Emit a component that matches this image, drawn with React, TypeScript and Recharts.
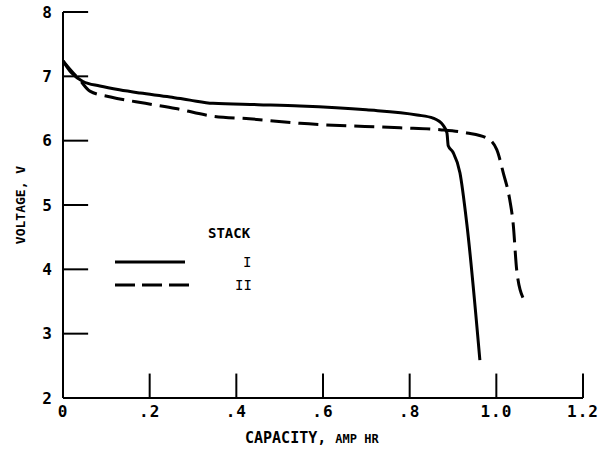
import React from 'react';
import {
  LineChart,
  Line,
  XAxis,
  YAxis,
  ReferenceLine,
  Label
} from 'recharts';

// capacity (amp hr) / voltage readings for each stack
const stackOneCapacity = [0, 0.02, 0.046, 0.085, 0.13, 0.178, 0.247, 0.293, 0.346, 0.45, 0.547, 0.7, 0.817, 0.854, 0.877, 0.886, 0.889, 0.9, 0.916, 0.932, 0.962];
const stackOneVoltage = [7.24, 7.05, 6.92, 6.85, 6.79, 6.74, 6.68, 6.63, 6.58, 6.56, 6.54, 6.48, 6.4, 6.35, 6.24, 6.12, 5.92, 5.82, 5.5, 4.7, 2.59];

const stackTwoCapacity = [0, 0.02, 0.039, 0.062, 0.11, 0.19, 0.26, 0.346, 0.43, 0.547, 0.778, 0.87, 0.932, 0.978, 1.001, 1.016, 1.031, 1.039, 1.047, 1.062];
const stackTwoVoltage = [7.24, 7.08, 6.94, 6.77, 6.68, 6.58, 6.5, 6.38, 6.34, 6.27, 6.2, 6.17, 6.12, 6.04, 5.86, 5.5, 5.08, 4.7, 3.99, 3.55];

const xTicks = [0, 0.2, 0.4, 0.6, 0.8, 1.0, 1.2];
const yTicks = [2, 3, 4, 5, 6, 7, 8];

const stackOne = stackOneCapacity.map((c, i) => ({ capacity: c, voltage: stackOneVoltage[i] }));
const stackTwo = stackTwoCapacity.map((c, i) => ({ capacity: c, voltage: stackTwoVoltage[i] }));

const FONT = '"DejaVu Sans Mono", monospace';

const formatX = (v: number) => {
  if (v === 0) return '0';
  if (v >= 1) return v.toFixed(1);
  return '.' + Math.round(v * 10);
};

const StackLegend = () => (
  <svg width={160} height={70} style={{ display: 'block' }}>
    <text x={93} y={16} fontFamily={FONT} fontWeight="bold" fontSize={14} fill="#000">STACK</text>
    <line x1={0} y1={40} x2={70} y2={40} stroke="#000" strokeWidth={3} />
    <text x={128} y={45} fontFamily={FONT} fontSize={14} fill="#000">I</text>
    <line x1={0} y1={63} x2={75} y2={63} stroke="#000" strokeWidth={3} strokeDasharray="20 7" />
    <text x={120} y={68} fontFamily={FONT} fontSize={14} fill="#000">II</text>
  </svg>
);

const XTitle = () => (
  <text x={245} y={443} fontFamily={FONT} fontWeight="bold" fill="#000">
    <tspan fontSize={15}>CAPACITY, </tspan>
    <tspan fontSize={12}>AMP HR</tspan>
  </text>
);

const tickStyle = { fill: '#000', fontSize: 16, fontFamily: FONT, fontWeight: 'bold', letterSpacing: 1 };

export default function App() {
  return (
    <div style={{ position: 'absolute', left: 0, top: 0, width: 600, height: 453, background: '#fff' }}>
      <LineChart width={600} height={453} margin={{ top: 12, right: 17, left: 18, bottom: 0 }}>
        <XAxis
          type="number"
          dataKey="capacity"
          domain={[0, 1.2]}
          ticks={xTicks}
          tickFormatter={formatX}
          allowDataOverflow
          height={55}
          tickSize={0}
          tickMargin={8}
          tickLine={false}
          axisLine={{ stroke: '#000', strokeWidth: 2 }}
          tick={tickStyle}
        >
          <Label content={<XTitle />} />
        </XAxis>
        <YAxis
          type="number"
          dataKey="voltage"
          domain={[2, 8]}
          ticks={yTicks}
          allowDataOverflow
          width={45}
          tickSize={0}
          tickMargin={10}
          tickLine={false}
          axisLine={{ stroke: '#000', strokeWidth: 2 }}
          tick={tickStyle}
        >
          <Label
            value="VOLTAGE, V"
            angle={-90}
            position="insideLeft"
            offset={2}
            style={{ textAnchor: 'middle', fill: '#000', fontSize: 13, fontFamily: FONT, fontWeight: 'bold' }}
          />
        </YAxis>
        {yTicks.slice(1).map((v) => (
          <ReferenceLine key={'y' + v} segment={[{ x: 0, y: v }, { x: 0.058, y: v }]} stroke="#000" strokeWidth={2} />
        ))}
        {xTicks.slice(1).map((v) => (
          <ReferenceLine key={'x' + v} segment={[{ x: v, y: 2 }, { x: v, y: 2.38 }]} stroke="#000" strokeWidth={2} />
        ))}
        <Line
          data={stackOne}
          dataKey="voltage"
          type="monotone"
          stroke="#000"
          strokeWidth={3}
          dot={false}
          isAnimationActive={false}
        />
        <Line
          data={stackTwo}
          dataKey="voltage"
          type="monotone"
          stroke="#000"
          strokeWidth={3}
          strokeDasharray="20 8"
          dot={false}
          isAnimationActive={false}
        />
      </LineChart>
      <div style={{ position: 'absolute', left: 115, top: 222 }}>
        <StackLegend />
      </div>
    </div>
  );
}
